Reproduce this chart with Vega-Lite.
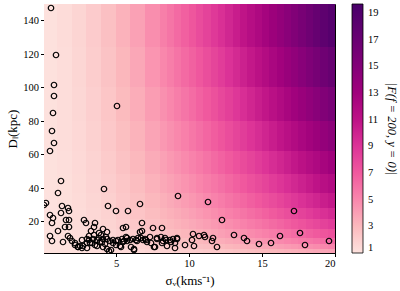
{
"$schema":"https://vega.github.io/schema/vega-lite/v6.json",
"width":291,"height":249,
"autosize":"none",
"padding":{"left":44,"top":4,"right":65,"bottom":38},
"background":"white",
"config":{
 "view":{"stroke":"#000","strokeWidth":1},
 "axis":{"grid":false,"domainColor":"#000","tickColor":"#000","tickSize":3.5,"labelFont":"Liberation Serif","labelFontSize":10.5,"labelColor":"#000","titleFont":"Liberation Serif","titleFontSize":13,"titleFontWeight":"normal","titleColor":"#000","labelPadding":2}
},
"datasets":{
"grid":[
{"s0":0.1,"s1":1,"d0":0.9,"d1":3,"f":1.01},{"s0":0.1,"s1":1,"d0":3,"d1":6,"f":1.01},{"s0":0.1,"s1":1,"d0":6,"d1":10,"f":1.02},{"s0":0.1,"s1":1,"d0":10,"d1":15,"f":1.02},{"s0":0.1,"s1":1,"d0":15,"d1":21,"f":1.02},{"s0":0.1,"s1":1,"d0":21,"d1":28,"f":1.03},{"s0":0.1,"s1":1,"d0":28,"d1":37,"f":1.03},{"s0":0.1,"s1":1,"d0":37,"d1":48,"f":1.04},{"s0":0.1,"s1":1,"d0":48,"d1":62,"f":1.04},{"s0":0.1,"s1":1,"d0":62,"d1":80,"f":1.04},{"s0":0.1,"s1":1,"d0":80,"d1":100,"f":1.05},{"s0":0.1,"s1":1,"d0":100,"d1":124,"f":1.05},{"s0":0.1,"s1":1,"d0":124,"d1":149.6,"f":1.06},
{"s0":1,"s1":2,"d0":0.9,"d1":3,"f":1.05},{"s0":1,"s1":2,"d0":3,"d1":6,"f":1.07},{"s0":1,"s1":2,"d0":6,"d1":10,"f":1.09},{"s0":1,"s1":2,"d0":10,"d1":15,"f":1.10},{"s0":1,"s1":2,"d0":15,"d1":21,"f":1.12},{"s0":1,"s1":2,"d0":21,"d1":28,"f":1.14},{"s0":1,"s1":2,"d0":28,"d1":37,"f":1.16},{"s0":1,"s1":2,"d0":37,"d1":48,"f":1.17},{"s0":1,"s1":2,"d0":48,"d1":62,"f":1.19},{"s0":1,"s1":2,"d0":62,"d1":80,"f":1.22},{"s0":1,"s1":2,"d0":80,"d1":100,"f":1.24},{"s0":1,"s1":2,"d0":100,"d1":124,"f":1.26},{"s0":1,"s1":2,"d0":124,"d1":149.6,"f":1.29},
{"s0":2,"s1":3,"d0":0.9,"d1":3,"f":1.11},{"s0":2,"s1":3,"d0":3,"d1":6,"f":1.15},{"s0":2,"s1":3,"d0":6,"d1":10,"f":1.20},{"s0":2,"s1":3,"d0":10,"d1":15,"f":1.24},{"s0":2,"s1":3,"d0":15,"d1":21,"f":1.28},{"s0":2,"s1":3,"d0":21,"d1":28,"f":1.31},{"s0":2,"s1":3,"d0":28,"d1":37,"f":1.35},{"s0":2,"s1":3,"d0":37,"d1":48,"f":1.40},{"s0":2,"s1":3,"d0":48,"d1":62,"f":1.44},{"s0":2,"s1":3,"d0":62,"d1":80,"f":1.49},{"s0":2,"s1":3,"d0":80,"d1":100,"f":1.54},{"s0":2,"s1":3,"d0":100,"d1":124,"f":1.59},{"s0":2,"s1":3,"d0":124,"d1":149.6,"f":1.65},
{"s0":3,"s1":4,"d0":0.9,"d1":3,"f":1.19},{"s0":3,"s1":4,"d0":3,"d1":6,"f":1.26},{"s0":3,"s1":4,"d0":6,"d1":10,"f":1.34},{"s0":3,"s1":4,"d0":10,"d1":15,"f":1.40},{"s0":3,"s1":4,"d0":15,"d1":21,"f":1.47},{"s0":3,"s1":4,"d0":21,"d1":28,"f":1.54},{"s0":3,"s1":4,"d0":28,"d1":37,"f":1.60},{"s0":3,"s1":4,"d0":37,"d1":48,"f":1.68},{"s0":3,"s1":4,"d0":48,"d1":62,"f":1.75},{"s0":3,"s1":4,"d0":62,"d1":80,"f":1.84},{"s0":3,"s1":4,"d0":80,"d1":100,"f":1.93},{"s0":3,"s1":4,"d0":100,"d1":124,"f":2.02},{"s0":3,"s1":4,"d0":124,"d1":149.6,"f":2.11},
{"s0":4,"s1":5,"d0":0.9,"d1":3,"f":1.28},{"s0":4,"s1":5,"d0":3,"d1":6,"f":1.39},{"s0":4,"s1":5,"d0":6,"d1":10,"f":1.50},{"s0":4,"s1":5,"d0":10,"d1":15,"f":1.60},{"s0":4,"s1":5,"d0":15,"d1":21,"f":1.70},{"s0":4,"s1":5,"d0":21,"d1":28,"f":1.80},{"s0":4,"s1":5,"d0":28,"d1":37,"f":1.90},{"s0":4,"s1":5,"d0":37,"d1":48,"f":2.01},{"s0":4,"s1":5,"d0":48,"d1":62,"f":2.13},{"s0":4,"s1":5,"d0":62,"d1":80,"f":2.25},{"s0":4,"s1":5,"d0":80,"d1":100,"f":2.39},{"s0":4,"s1":5,"d0":100,"d1":124,"f":2.52},{"s0":4,"s1":5,"d0":124,"d1":149.6,"f":2.65},
{"s0":5,"s1":6,"d0":0.9,"d1":3,"f":1.38},{"s0":5,"s1":6,"d0":3,"d1":6,"f":1.54},{"s0":5,"s1":6,"d0":6,"d1":10,"f":1.69},{"s0":5,"s1":6,"d0":10,"d1":15,"f":1.83},{"s0":5,"s1":6,"d0":15,"d1":21,"f":1.97},{"s0":5,"s1":6,"d0":21,"d1":28,"f":2.11},{"s0":5,"s1":6,"d0":28,"d1":37,"f":2.25},{"s0":5,"s1":6,"d0":37,"d1":48,"f":2.39},{"s0":5,"s1":6,"d0":48,"d1":62,"f":2.55},{"s0":5,"s1":6,"d0":62,"d1":80,"f":2.73},{"s0":5,"s1":6,"d0":80,"d1":100,"f":2.91},{"s0":5,"s1":6,"d0":100,"d1":124,"f":3.10},{"s0":5,"s1":6,"d0":124,"d1":149.6,"f":3.28},
{"s0":6,"s1":7,"d0":0.9,"d1":3,"f":1.50},{"s0":6,"s1":7,"d0":3,"d1":6,"f":1.71},{"s0":6,"s1":7,"d0":6,"d1":10,"f":1.90},{"s0":6,"s1":7,"d0":10,"d1":15,"f":2.09},{"s0":6,"s1":7,"d0":15,"d1":21,"f":2.27},{"s0":6,"s1":7,"d0":21,"d1":28,"f":2.45},{"s0":6,"s1":7,"d0":28,"d1":37,"f":2.63},{"s0":6,"s1":7,"d0":37,"d1":48,"f":2.82},{"s0":6,"s1":7,"d0":48,"d1":62,"f":3.03},{"s0":6,"s1":7,"d0":62,"d1":80,"f":3.26},{"s0":6,"s1":7,"d0":80,"d1":100,"f":3.50},{"s0":6,"s1":7,"d0":100,"d1":124,"f":3.74},{"s0":6,"s1":7,"d0":124,"d1":149.6,"f":3.98},
{"s0":7,"s1":8,"d0":0.9,"d1":3,"f":1.63},{"s0":7,"s1":8,"d0":3,"d1":6,"f":1.89},{"s0":7,"s1":8,"d0":6,"d1":10,"f":2.14},{"s0":7,"s1":8,"d0":10,"d1":15,"f":2.37},{"s0":7,"s1":8,"d0":15,"d1":21,"f":2.60},{"s0":7,"s1":8,"d0":21,"d1":28,"f":2.82},{"s0":7,"s1":8,"d0":28,"d1":37,"f":3.05},{"s0":7,"s1":8,"d0":37,"d1":48,"f":3.29},{"s0":7,"s1":8,"d0":48,"d1":62,"f":3.55},{"s0":7,"s1":8,"d0":62,"d1":80,"f":3.84},{"s0":7,"s1":8,"d0":80,"d1":100,"f":4.14},{"s0":7,"s1":8,"d0":100,"d1":124,"f":4.44},{"s0":7,"s1":8,"d0":124,"d1":149.6,"f":4.74},
{"s0":8,"s1":8.5,"d0":0.9,"d1":3,"f":1.73},{"s0":8,"s1":8.5,"d0":3,"d1":6,"f":2.04},{"s0":8,"s1":8.5,"d0":6,"d1":10,"f":2.32},{"s0":8,"s1":8.5,"d0":10,"d1":15,"f":2.60},{"s0":8,"s1":8.5,"d0":15,"d1":21,"f":2.86},{"s0":8,"s1":8.5,"d0":21,"d1":28,"f":3.12},{"s0":8,"s1":8.5,"d0":28,"d1":37,"f":3.38},{"s0":8,"s1":8.5,"d0":37,"d1":48,"f":3.67},{"s0":8,"s1":8.5,"d0":48,"d1":62,"f":3.97},{"s0":8,"s1":8.5,"d0":62,"d1":80,"f":4.31},{"s0":8,"s1":8.5,"d0":80,"d1":100,"f":4.66},{"s0":8,"s1":8.5,"d0":100,"d1":124,"f":5.01},{"s0":8,"s1":8.5,"d0":124,"d1":149.6,"f":5.36},
{"s0":8.5,"s1":9,"d0":0.9,"d1":3,"f":1.80},{"s0":8.5,"s1":9,"d0":3,"d1":6,"f":2.14},{"s0":8.5,"s1":9,"d0":6,"d1":10,"f":2.45},{"s0":8.5,"s1":9,"d0":10,"d1":15,"f":2.75},{"s0":8.5,"s1":9,"d0":15,"d1":21,"f":3.04},{"s0":8.5,"s1":9,"d0":21,"d1":28,"f":3.33},{"s0":8.5,"s1":9,"d0":28,"d1":37,"f":3.62},{"s0":8.5,"s1":9,"d0":37,"d1":48,"f":3.93},{"s0":8.5,"s1":9,"d0":48,"d1":62,"f":4.27},{"s0":8.5,"s1":9,"d0":62,"d1":80,"f":4.64},{"s0":8.5,"s1":9,"d0":80,"d1":100,"f":5.02},{"s0":8.5,"s1":9,"d0":100,"d1":124,"f":5.40},{"s0":8.5,"s1":9,"d0":124,"d1":149.6,"f":5.79},
{"s0":9,"s1":9.5,"d0":0.9,"d1":3,"f":1.88},{"s0":9,"s1":9.5,"d0":3,"d1":6,"f":2.25},{"s0":9,"s1":9.5,"d0":6,"d1":10,"f":2.59},{"s0":9,"s1":9.5,"d0":10,"d1":15,"f":2.92},{"s0":9,"s1":9.5,"d0":15,"d1":21,"f":3.23},{"s0":9,"s1":9.5,"d0":21,"d1":28,"f":3.54},{"s0":9,"s1":9.5,"d0":28,"d1":37,"f":3.86},{"s0":9,"s1":9.5,"d0":37,"d1":48,"f":4.20},{"s0":9,"s1":9.5,"d0":48,"d1":62,"f":4.57},{"s0":9,"s1":9.5,"d0":62,"d1":80,"f":4.98},{"s0":9,"s1":9.5,"d0":80,"d1":100,"f":5.39},{"s0":9,"s1":9.5,"d0":100,"d1":124,"f":5.81},{"s0":9,"s1":9.5,"d0":124,"d1":149.6,"f":6.24},
{"s0":9.5,"s1":10,"d0":0.9,"d1":3,"f":1.96},{"s0":9.5,"s1":10,"d0":3,"d1":6,"f":2.36},{"s0":9.5,"s1":10,"d0":6,"d1":10,"f":2.73},{"s0":9.5,"s1":10,"d0":10,"d1":15,"f":3.09},{"s0":9.5,"s1":10,"d0":15,"d1":21,"f":3.43},{"s0":9.5,"s1":10,"d0":21,"d1":28,"f":3.77},{"s0":9.5,"s1":10,"d0":28,"d1":37,"f":4.12},{"s0":9.5,"s1":10,"d0":37,"d1":48,"f":4.49},{"s0":9.5,"s1":10,"d0":48,"d1":62,"f":4.88},{"s0":9.5,"s1":10,"d0":62,"d1":80,"f":5.32},{"s0":9.5,"s1":10,"d0":80,"d1":100,"f":5.78},{"s0":9.5,"s1":10,"d0":100,"d1":124,"f":6.24},{"s0":9.5,"s1":10,"d0":124,"d1":149.6,"f":6.70},
{"s0":10,"s1":10.5,"d0":0.9,"d1":3,"f":2.03},{"s0":10,"s1":10.5,"d0":3,"d1":6,"f":2.47},{"s0":10,"s1":10.5,"d0":6,"d1":10,"f":2.87},{"s0":10,"s1":10.5,"d0":10,"d1":15,"f":3.26},{"s0":10,"s1":10.5,"d0":15,"d1":21,"f":3.63},{"s0":10,"s1":10.5,"d0":21,"d1":28,"f":4.00},{"s0":10,"s1":10.5,"d0":28,"d1":37,"f":4.37},{"s0":10,"s1":10.5,"d0":37,"d1":48,"f":4.78},{"s0":10,"s1":10.5,"d0":48,"d1":62,"f":5.21},{"s0":10,"s1":10.5,"d0":62,"d1":80,"f":5.68},{"s0":10,"s1":10.5,"d0":80,"d1":100,"f":6.18},{"s0":10,"s1":10.5,"d0":100,"d1":124,"f":6.67},{"s0":10,"s1":10.5,"d0":124,"d1":149.6,"f":7.17},
{"s0":10.5,"s1":11,"d0":0.9,"d1":3,"f":2.12},{"s0":10.5,"s1":11,"d0":3,"d1":6,"f":2.59},{"s0":10.5,"s1":11,"d0":6,"d1":10,"f":3.02},{"s0":10.5,"s1":11,"d0":10,"d1":15,"f":3.44},{"s0":10.5,"s1":11,"d0":15,"d1":21,"f":3.84},{"s0":10.5,"s1":11,"d0":21,"d1":28,"f":4.23},{"s0":10.5,"s1":11,"d0":28,"d1":37,"f":4.64},{"s0":10.5,"s1":11,"d0":37,"d1":48,"f":5.08},{"s0":10.5,"s1":11,"d0":48,"d1":62,"f":5.54},{"s0":10.5,"s1":11,"d0":62,"d1":80,"f":6.06},{"s0":10.5,"s1":11,"d0":80,"d1":100,"f":6.59},{"s0":10.5,"s1":11,"d0":100,"d1":124,"f":7.12},{"s0":10.5,"s1":11,"d0":124,"d1":149.6,"f":7.66},
{"s0":11,"s1":11.5,"d0":0.9,"d1":3,"f":2.20},{"s0":11,"s1":11.5,"d0":3,"d1":6,"f":2.71},{"s0":11,"s1":11.5,"d0":6,"d1":10,"f":3.17},{"s0":11,"s1":11.5,"d0":10,"d1":15,"f":3.62},{"s0":11,"s1":11.5,"d0":15,"d1":21,"f":4.06},{"s0":11,"s1":11.5,"d0":21,"d1":28,"f":4.48},{"s0":11,"s1":11.5,"d0":28,"d1":37,"f":4.92},{"s0":11,"s1":11.5,"d0":37,"d1":48,"f":5.38},{"s0":11,"s1":11.5,"d0":48,"d1":62,"f":5.88},{"s0":11,"s1":11.5,"d0":62,"d1":80,"f":6.44},{"s0":11,"s1":11.5,"d0":80,"d1":100,"f":7.01},{"s0":11,"s1":11.5,"d0":100,"d1":124,"f":7.58},{"s0":11,"s1":11.5,"d0":124,"d1":149.6,"f":8.16},
{"s0":11.5,"s1":12,"d0":0.9,"d1":3,"f":2.29},{"s0":11.5,"s1":12,"d0":3,"d1":6,"f":2.83},{"s0":11.5,"s1":12,"d0":6,"d1":10,"f":3.33},{"s0":11.5,"s1":12,"d0":10,"d1":15,"f":3.81},{"s0":11.5,"s1":12,"d0":15,"d1":21,"f":4.28},{"s0":11.5,"s1":12,"d0":21,"d1":28,"f":4.73},{"s0":11.5,"s1":12,"d0":28,"d1":37,"f":5.20},{"s0":11.5,"s1":12,"d0":37,"d1":48,"f":5.70},{"s0":11.5,"s1":12,"d0":48,"d1":62,"f":6.24},{"s0":11.5,"s1":12,"d0":62,"d1":80,"f":6.83},{"s0":11.5,"s1":12,"d0":80,"d1":100,"f":7.44},{"s0":11.5,"s1":12,"d0":100,"d1":124,"f":8.06},{"s0":11.5,"s1":12,"d0":124,"d1":149.6,"f":8.68},
{"s0":12,"s1":12.5,"d0":0.9,"d1":3,"f":2.38},{"s0":12,"s1":12.5,"d0":3,"d1":6,"f":2.96},{"s0":12,"s1":12.5,"d0":6,"d1":10,"f":3.49},{"s0":12,"s1":12.5,"d0":10,"d1":15,"f":4.00},{"s0":12,"s1":12.5,"d0":15,"d1":21,"f":4.50},{"s0":12,"s1":12.5,"d0":21,"d1":28,"f":4.99},{"s0":12,"s1":12.5,"d0":28,"d1":37,"f":5.49},{"s0":12,"s1":12.5,"d0":37,"d1":48,"f":6.02},{"s0":12,"s1":12.5,"d0":48,"d1":62,"f":6.60},{"s0":12,"s1":12.5,"d0":62,"d1":80,"f":7.23},{"s0":12,"s1":12.5,"d0":80,"d1":100,"f":7.88},{"s0":12,"s1":12.5,"d0":100,"d1":124,"f":8.55},{"s0":12,"s1":12.5,"d0":124,"d1":149.6,"f":9.21},
{"s0":12.5,"s1":13,"d0":0.9,"d1":3,"f":2.47},{"s0":12.5,"s1":13,"d0":3,"d1":6,"f":3.09},{"s0":12.5,"s1":13,"d0":6,"d1":10,"f":3.66},{"s0":12.5,"s1":13,"d0":10,"d1":15,"f":4.20},{"s0":12.5,"s1":13,"d0":15,"d1":21,"f":4.73},{"s0":12.5,"s1":13,"d0":21,"d1":28,"f":5.25},{"s0":12.5,"s1":13,"d0":28,"d1":37,"f":5.79},{"s0":12.5,"s1":13,"d0":37,"d1":48,"f":6.36},{"s0":12.5,"s1":13,"d0":48,"d1":62,"f":6.97},{"s0":12.5,"s1":13,"d0":62,"d1":80,"f":7.64},{"s0":12.5,"s1":13,"d0":80,"d1":100,"f":8.34},{"s0":12.5,"s1":13,"d0":100,"d1":124,"f":9.04},{"s0":12.5,"s1":13,"d0":124,"d1":149.6,"f":9.75},
{"s0":13,"s1":13.5,"d0":0.9,"d1":3,"f":2.56},{"s0":13,"s1":13.5,"d0":3,"d1":6,"f":3.22},{"s0":13,"s1":13.5,"d0":6,"d1":10,"f":3.82},{"s0":13,"s1":13.5,"d0":10,"d1":15,"f":4.41},{"s0":13,"s1":13.5,"d0":15,"d1":21,"f":4.97},{"s0":13,"s1":13.5,"d0":21,"d1":28,"f":5.52},{"s0":13,"s1":13.5,"d0":28,"d1":37,"f":6.09},{"s0":13,"s1":13.5,"d0":37,"d1":48,"f":6.70},{"s0":13,"s1":13.5,"d0":48,"d1":62,"f":7.35},{"s0":13,"s1":13.5,"d0":62,"d1":80,"f":8.06},{"s0":13,"s1":13.5,"d0":80,"d1":100,"f":8.81},{"s0":13,"s1":13.5,"d0":100,"d1":124,"f":9.56},{"s0":13,"s1":13.5,"d0":124,"d1":149.6,"f":10.31},
{"s0":13.5,"s1":14,"d0":0.9,"d1":3,"f":2.66},{"s0":13.5,"s1":14,"d0":3,"d1":6,"f":3.35},{"s0":13.5,"s1":14,"d0":6,"d1":10,"f":4.00},{"s0":13.5,"s1":14,"d0":10,"d1":15,"f":4.61},{"s0":13.5,"s1":14,"d0":15,"d1":21,"f":5.21},{"s0":13.5,"s1":14,"d0":21,"d1":28,"f":5.79},{"s0":13.5,"s1":14,"d0":28,"d1":37,"f":6.40},{"s0":13.5,"s1":14,"d0":37,"d1":48,"f":7.04},{"s0":13.5,"s1":14,"d0":48,"d1":62,"f":7.73},{"s0":13.5,"s1":14,"d0":62,"d1":80,"f":8.50},{"s0":13.5,"s1":14,"d0":80,"d1":100,"f":9.28},{"s0":13.5,"s1":14,"d0":100,"d1":124,"f":10.08},{"s0":13.5,"s1":14,"d0":124,"d1":149.6,"f":10.87},
{"s0":14,"s1":14.5,"d0":0.9,"d1":3,"f":2.75},{"s0":14,"s1":14.5,"d0":3,"d1":6,"f":3.49},{"s0":14,"s1":14.5,"d0":6,"d1":10,"f":4.17},{"s0":14,"s1":14.5,"d0":10,"d1":15,"f":4.83},{"s0":14,"s1":14.5,"d0":15,"d1":21,"f":5.46},{"s0":14,"s1":14.5,"d0":21,"d1":28,"f":6.08},{"s0":14,"s1":14.5,"d0":28,"d1":37,"f":6.72},{"s0":14,"s1":14.5,"d0":37,"d1":48,"f":7.40},{"s0":14,"s1":14.5,"d0":48,"d1":62,"f":8.13},{"s0":14,"s1":14.5,"d0":62,"d1":80,"f":8.94},{"s0":14,"s1":14.5,"d0":80,"d1":100,"f":9.77},{"s0":14,"s1":14.5,"d0":100,"d1":124,"f":10.61},{"s0":14,"s1":14.5,"d0":124,"d1":149.6,"f":11.45},
{"s0":14.5,"s1":15,"d0":0.9,"d1":3,"f":2.85},{"s0":14.5,"s1":15,"d0":3,"d1":6,"f":3.63},{"s0":14.5,"s1":15,"d0":6,"d1":10,"f":4.35},{"s0":14.5,"s1":15,"d0":10,"d1":15,"f":5.04},{"s0":14.5,"s1":15,"d0":15,"d1":21,"f":5.71},{"s0":14.5,"s1":15,"d0":21,"d1":28,"f":6.36},{"s0":14.5,"s1":15,"d0":28,"d1":37,"f":7.04},{"s0":14.5,"s1":15,"d0":37,"d1":48,"f":7.76},{"s0":14.5,"s1":15,"d0":48,"d1":62,"f":8.53},{"s0":14.5,"s1":15,"d0":62,"d1":80,"f":9.39},{"s0":14.5,"s1":15,"d0":80,"d1":100,"f":10.27},{"s0":14.5,"s1":15,"d0":100,"d1":124,"f":11.16},{"s0":14.5,"s1":15,"d0":124,"d1":149.6,"f":12.05},
{"s0":15,"s1":15.5,"d0":0.9,"d1":3,"f":2.95},{"s0":15,"s1":15.5,"d0":3,"d1":6,"f":3.78},{"s0":15,"s1":15.5,"d0":6,"d1":10,"f":4.54},{"s0":15,"s1":15.5,"d0":10,"d1":15,"f":5.27},{"s0":15,"s1":15.5,"d0":15,"d1":21,"f":5.97},{"s0":15,"s1":15.5,"d0":21,"d1":28,"f":6.66},{"s0":15,"s1":15.5,"d0":28,"d1":37,"f":7.37},{"s0":15,"s1":15.5,"d0":37,"d1":48,"f":8.13},{"s0":15,"s1":15.5,"d0":48,"d1":62,"f":8.95},{"s0":15,"s1":15.5,"d0":62,"d1":80,"f":9.85},{"s0":15,"s1":15.5,"d0":80,"d1":100,"f":10.77},{"s0":15,"s1":15.5,"d0":100,"d1":124,"f":11.71},{"s0":15,"s1":15.5,"d0":124,"d1":149.6,"f":12.65},
{"s0":15.5,"s1":16,"d0":0.9,"d1":3,"f":3.06},{"s0":15.5,"s1":16,"d0":3,"d1":6,"f":3.92},{"s0":15.5,"s1":16,"d0":6,"d1":10,"f":4.72},{"s0":15.5,"s1":16,"d0":10,"d1":15,"f":5.49},{"s0":15.5,"s1":16,"d0":15,"d1":21,"f":6.23},{"s0":15.5,"s1":16,"d0":21,"d1":28,"f":6.96},{"s0":15.5,"s1":16,"d0":28,"d1":37,"f":7.71},{"s0":15.5,"s1":16,"d0":37,"d1":48,"f":8.51},{"s0":15.5,"s1":16,"d0":48,"d1":62,"f":9.37},{"s0":15.5,"s1":16,"d0":62,"d1":80,"f":10.32},{"s0":15.5,"s1":16,"d0":80,"d1":100,"f":11.29},{"s0":15.5,"s1":16,"d0":100,"d1":124,"f":12.28},{"s0":15.5,"s1":16,"d0":124,"d1":149.6,"f":13.27},
{"s0":16,"s1":16.5,"d0":0.9,"d1":3,"f":3.16},{"s0":16,"s1":16.5,"d0":3,"d1":6,"f":4.07},{"s0":16,"s1":16.5,"d0":6,"d1":10,"f":4.91},{"s0":16,"s1":16.5,"d0":10,"d1":15,"f":5.72},{"s0":16,"s1":16.5,"d0":15,"d1":21,"f":6.50},{"s0":16,"s1":16.5,"d0":21,"d1":28,"f":7.26},{"s0":16,"s1":16.5,"d0":28,"d1":37,"f":8.05},{"s0":16,"s1":16.5,"d0":37,"d1":48,"f":8.89},{"s0":16,"s1":16.5,"d0":48,"d1":62,"f":9.80},{"s0":16,"s1":16.5,"d0":62,"d1":80,"f":10.79},{"s0":16,"s1":16.5,"d0":80,"d1":100,"f":11.82},{"s0":16,"s1":16.5,"d0":100,"d1":124,"f":12.86},{"s0":16,"s1":16.5,"d0":124,"d1":149.6,"f":13.90},
{"s0":16.5,"s1":17,"d0":0.9,"d1":3,"f":3.27},{"s0":16.5,"s1":17,"d0":3,"d1":6,"f":4.23},{"s0":16.5,"s1":17,"d0":6,"d1":10,"f":5.11},{"s0":16.5,"s1":17,"d0":10,"d1":15,"f":5.96},{"s0":16.5,"s1":17,"d0":15,"d1":21,"f":6.78},{"s0":16.5,"s1":17,"d0":21,"d1":28,"f":7.58},{"s0":16.5,"s1":17,"d0":28,"d1":37,"f":8.40},{"s0":16.5,"s1":17,"d0":37,"d1":48,"f":9.29},{"s0":16.5,"s1":17,"d0":48,"d1":62,"f":10.23},{"s0":16.5,"s1":17,"d0":62,"d1":80,"f":11.28},{"s0":16.5,"s1":17,"d0":80,"d1":100,"f":12.36},{"s0":16.5,"s1":17,"d0":100,"d1":124,"f":13.45},{"s0":16.5,"s1":17,"d0":124,"d1":149.6,"f":14.54},
{"s0":17,"s1":17.5,"d0":0.9,"d1":3,"f":3.38},{"s0":17,"s1":17.5,"d0":3,"d1":6,"f":4.38},{"s0":17,"s1":17.5,"d0":6,"d1":10,"f":5.31},{"s0":17,"s1":17.5,"d0":10,"d1":15,"f":6.20},{"s0":17,"s1":17.5,"d0":15,"d1":21,"f":7.06},{"s0":17,"s1":17.5,"d0":21,"d1":28,"f":7.89},{"s0":17,"s1":17.5,"d0":28,"d1":37,"f":8.76},{"s0":17,"s1":17.5,"d0":37,"d1":48,"f":9.69},{"s0":17,"s1":17.5,"d0":48,"d1":62,"f":10.68},{"s0":17,"s1":17.5,"d0":62,"d1":80,"f":11.78},{"s0":17,"s1":17.5,"d0":80,"d1":100,"f":12.90},{"s0":17,"s1":17.5,"d0":100,"d1":124,"f":14.05},{"s0":17,"s1":17.5,"d0":124,"d1":149.6,"f":15.19},
{"s0":17.5,"s1":18,"d0":0.9,"d1":3,"f":3.49},{"s0":17.5,"s1":18,"d0":3,"d1":6,"f":4.54},{"s0":17.5,"s1":18,"d0":6,"d1":10,"f":5.51},{"s0":17.5,"s1":18,"d0":10,"d1":15,"f":6.44},{"s0":17.5,"s1":18,"d0":15,"d1":21,"f":7.34},{"s0":17.5,"s1":18,"d0":21,"d1":28,"f":8.21},{"s0":17.5,"s1":18,"d0":28,"d1":37,"f":9.12},{"s0":17.5,"s1":18,"d0":37,"d1":48,"f":10.09},{"s0":17.5,"s1":18,"d0":48,"d1":62,"f":11.13},{"s0":17.5,"s1":18,"d0":62,"d1":80,"f":12.28},{"s0":17.5,"s1":18,"d0":80,"d1":100,"f":13.46},{"s0":17.5,"s1":18,"d0":100,"d1":124,"f":14.66},{"s0":17.5,"s1":18,"d0":124,"d1":149.6,"f":15.86},
{"s0":18,"s1":18.5,"d0":0.9,"d1":3,"f":3.60},{"s0":18,"s1":18.5,"d0":3,"d1":6,"f":4.70},{"s0":18,"s1":18.5,"d0":6,"d1":10,"f":5.71},{"s0":18,"s1":18.5,"d0":10,"d1":15,"f":6.69},{"s0":18,"s1":18.5,"d0":15,"d1":21,"f":7.63},{"s0":18,"s1":18.5,"d0":21,"d1":28,"f":8.54},{"s0":18,"s1":18.5,"d0":28,"d1":37,"f":9.49},{"s0":18,"s1":18.5,"d0":37,"d1":48,"f":10.51},{"s0":18,"s1":18.5,"d0":48,"d1":62,"f":11.59},{"s0":18,"s1":18.5,"d0":62,"d1":80,"f":12.79},{"s0":18,"s1":18.5,"d0":80,"d1":100,"f":14.03},{"s0":18,"s1":18.5,"d0":100,"d1":124,"f":15.28},{"s0":18,"s1":18.5,"d0":124,"d1":149.6,"f":16.53},
{"s0":18.5,"s1":19,"d0":0.9,"d1":3,"f":3.72},{"s0":18.5,"s1":19,"d0":3,"d1":6,"f":4.86},{"s0":18.5,"s1":19,"d0":6,"d1":10,"f":5.92},{"s0":18.5,"s1":19,"d0":10,"d1":15,"f":6.94},{"s0":18.5,"s1":19,"d0":15,"d1":21,"f":7.92},{"s0":18.5,"s1":19,"d0":21,"d1":28,"f":8.88},{"s0":18.5,"s1":19,"d0":28,"d1":37,"f":9.87},{"s0":18.5,"s1":19,"d0":37,"d1":48,"f":10.93},{"s0":18.5,"s1":19,"d0":48,"d1":62,"f":12.06},{"s0":18.5,"s1":19,"d0":62,"d1":80,"f":13.31},{"s0":18.5,"s1":19,"d0":80,"d1":100,"f":14.60},{"s0":18.5,"s1":19,"d0":100,"d1":124,"f":15.91},{"s0":18.5,"s1":19,"d0":124,"d1":149.6,"f":17.22},
{"s0":19,"s1":19.5,"d0":0.9,"d1":3,"f":3.84},{"s0":19,"s1":19.5,"d0":3,"d1":6,"f":5.03},{"s0":19,"s1":19.5,"d0":6,"d1":10,"f":6.13},{"s0":19,"s1":19.5,"d0":10,"d1":15,"f":7.19},{"s0":19,"s1":19.5,"d0":15,"d1":21,"f":8.22},{"s0":19,"s1":19.5,"d0":21,"d1":28,"f":9.21},{"s0":19,"s1":19.5,"d0":28,"d1":37,"f":10.25},{"s0":19,"s1":19.5,"d0":37,"d1":48,"f":11.35},{"s0":19,"s1":19.5,"d0":48,"d1":62,"f":12.53},{"s0":19,"s1":19.5,"d0":62,"d1":80,"f":13.84},{"s0":19,"s1":19.5,"d0":80,"d1":100,"f":15.19},{"s0":19,"s1":19.5,"d0":100,"d1":124,"f":16.55},{"s0":19,"s1":19.5,"d0":124,"d1":149.6,"f":17.91},
{"s0":19.5,"s1":20,"d0":0.9,"d1":3,"f":3.96},{"s0":19.5,"s1":20,"d0":3,"d1":6,"f":5.20},{"s0":19.5,"s1":20,"d0":6,"d1":10,"f":6.35},{"s0":19.5,"s1":20,"d0":10,"d1":15,"f":7.45},{"s0":19.5,"s1":20,"d0":15,"d1":21,"f":8.52},{"s0":19.5,"s1":20,"d0":21,"d1":28,"f":9.56},{"s0":19.5,"s1":20,"d0":28,"d1":37,"f":10.64},{"s0":19.5,"s1":20,"d0":37,"d1":48,"f":11.79},{"s0":19.5,"s1":20,"d0":48,"d1":62,"f":13.02},{"s0":19.5,"s1":20,"d0":62,"d1":80,"f":14.38},{"s0":19.5,"s1":20,"d0":80,"d1":100,"f":15.78},{"s0":19.5,"s1":20,"d0":100,"d1":124,"f":17.20},{"s0":19.5,"s1":20,"d0":124,"d1":149.6,"f":18.62}
],
"pts":[
{"s":0.58,"d":147.2},{"s":0.90,"d":118.9},{"s":0.79,"d":101.2},{"s":0.79,"d":94.6},{"s":0.70,"d":84.5},{"s":0.67,"d":73.6},{"s":0.79,"d":66.4},{"s":0.51,"d":61.8},{"s":5.07,"d":88.5},
{"s":1.26,"d":44.1},{"s":1.08,"d":36.5},{"s":4.20,"d":39.1},{"s":0.22,"d":30.6},{"s":0.12,"d":29.4},{"s":1.31,"d":28.8},{"s":0.51,"d":23.6},{"s":0.74,"d":21.6},{"s":0.67,"d":18.6},{"s":1.26,"d":24.6},{"s":1.76,"d":27.6},{"s":1.81,"d":26.2},{"s":1.58,"d":20.6},{"s":1.81,"d":20.6},{"s":1.54,"d":16.2},{"s":1.81,"d":16.2},{"s":1.08,"d":14.2},{"s":0.51,"d":11.0},{"s":0.63,"d":8.1},{"s":1.38,"d":7.6},{"s":1.72,"d":11.2},{"s":2.86,"d":20.6},{"s":2.95,"d":19.0},{"s":4.49,"d":28.8},{"s":5.00,"d":26.2},{"s":5.86,"d":26.0},{"s":6.66,"d":30.1},{"s":9.28,"d":34.7},{"s":3.59,"d":18.6},{"s":3.54,"d":16.2},{"s":3.29,"d":14.2},{"s":4.11,"d":15.2},{"s":4.38,"d":13.6},{"s":3.88,"d":13.0},{"s":5.52,"d":15.6},{"s":5.70,"d":16.2},{"s":6.78,"d":18.6},{"s":6.78,"d":14.2},{"s":7.57,"d":15.6},{"s":8.14,"d":15.6},{"s":9.17,"d":9.1},{"s":9.75,"d":5.5},{"s":10.19,"d":8.7},{"s":10.37,"d":5.1},
{"s":11.32,"d":31.5},{"s":12.26,"d":20.4},{"s":17.18,"d":26.2},{"s":10.30,"d":12.1},{"s":10.71,"d":11.0},{"s":11.05,"d":11.8},{"s":11.10,"d":10.3},{"s":11.58,"d":8.3},{"s":11.67,"d":10.0},{"s":11.90,"d":4.3},{"s":13.08,"d":11.6},{"s":13.78,"d":10.0},{"s":13.99,"d":8.3},{"s":14.77,"d":6.1},{"s":15.59,"d":6.7},{"s":16.27,"d":11.2},{"s":17.60,"d":12.6},{"s":17.98,"d":5.5},{"s":19.57,"d":8.1},
{"s":1.99,"d":8.1},{"s":2.22,"d":5.7},{"s":2.45,"d":4.3},{"s":2.68,"d":3.7},{"s":2.79,"d":5.1},{"s":3.02,"d":7.1},{"s":3.20,"d":8.7},{"s":3.36,"d":6.7},{"s":3.47,"d":9.5},{"s":3.59,"d":5.7},{"s":3.74,"d":8.7},{"s":3.88,"d":10.1},{"s":4.04,"d":7.7},{"s":4.15,"d":9.1},{"s":4.27,"d":6.3},{"s":4.38,"d":9.3},{"s":4.61,"d":8.3},{"s":4.68,"d":2.7},{"s":4.84,"d":7.1},{"s":5.02,"d":8.3},{"s":5.18,"d":8.7},{"s":5.29,"d":5.1},{"s":5.41,"d":9.5},{"s":5.57,"d":7.9},{"s":5.70,"d":10.3},{"s":5.79,"d":8.1},{"s":5.98,"d":8.7},{"s":6.16,"d":9.5},{"s":6.25,"d":3.5},{"s":6.43,"d":8.1},{"s":6.55,"d":10.1},{"s":6.66,"d":13.6},{"s":6.84,"d":8.7},{"s":7.00,"d":9.5},{"s":7.12,"d":7.7},{"s":7.34,"d":10.3},{"s":7.68,"d":4.3},{"s":7.80,"d":9.5},{"s":8.07,"d":10.3},{"s":8.21,"d":8.3},{"s":8.37,"d":9.7},{"s":8.48,"d":5.1},{"s":8.71,"d":8.7},{"s":8.93,"d":9.1},{"s":9.07,"d":3.7},{"s":9.21,"d":9.7},
{"s":2.56,"d":5.1},{"s":3.06,"d":3.7},{"s":3.24,"d":6.7},{"s":3.70,"d":5.1},{"s":3.92,"d":7.7},{"s":4.15,"d":4.7},{"s":4.38,"d":3.1},{"s":4.55,"d":2.0},{"s":3.01,"d":9.1},{"s":3.19,"d":11.1},{"s":2.67,"d":8.7},{"s":3.54,"d":11.8},{"s":4.00,"d":11.8},{"s":4.34,"d":10.5},{"s":4.79,"d":8.7},{"s":5.02,"d":5.7},{"s":5.36,"d":4.3},{"s":5.47,"d":7.7},{"s":5.81,"d":9.7},{"s":6.04,"d":4.7},{"s":6.27,"d":2.7},{"s":6.38,"d":8.7},{"s":6.72,"d":9.7},{"s":7.06,"d":8.7},{"s":7.40,"d":6.7},{"s":7.63,"d":4.7},{"s":7.86,"d":9.7},{"s":8.20,"d":6.7},{"s":8.43,"d":8.7},{"s":8.77,"d":7.7},{"s":9.07,"d":6.7},{"s":2.20,"d":6.7},{"s":2.40,"d":4.5},{"s":1.88,"d":9.7}
]
},
"layer":[
 {"data":{"name":"grid"},
  "mark":{"type":"rect"},
  "encoding":{
   "x":{"field":"s0","type":"quantitative","scale":{"domain":[0.1,20],"nice":false,"zero":false,"round":true},
        "axis":{"values":[5,10,15,20],"title":"σᵥ(kms⁻¹)","titlePadding":5}},
   "x2":{"field":"s1"},
   "y":{"field":"d0","type":"quantitative","scale":{"domain":[0.9,149.6],"nice":false,"zero":false,"round":true},
        "axis":{"values":[20,40,60,80,100,120,140],"title":"Dₗ(kpc)","titlePadding":3}},
   "y2":{"field":"d1"},
   "color":{"field":"f","type":"quantitative",
     "scale":{"type":"linear","domain":[1,3,5,7,9,11,13,15,17,19.67],"range":["#fde2de","#fbb9bd","#f987ac","#f0599e","#dc3397","#bd1286","#a0017c","#830178","#690172","#49006a"],"interpolate":"rgb","nice":false,"zero":false,"clamp":true},
     "legend":{"type":"gradient","direction":"vertical","title":"|F(f = 200, y = 0)|","values":[1,3,5,7,9,11,13,15,17,19],"gradientLength":249,"gradientThickness":11,"offset":17,"padding":0,"labelFont":"Liberation Serif","labelFontSize":10.5,"labelColor":"#000","labelOffset":5,"labelOverlap":false,"titleOrient":"right","titleAngle":270,"titleAnchor":"middle","titleFont":"Liberation Serif","titleFontStyle":"italic","titleFontWeight":"normal","titleFontSize":12.5,"titleColor":"#000","titlePadding":6,"gradientStrokeColor":"#000","gradientStrokeWidth":0.8}}
  }},
 {"data":{"name":"pts"},
  "mark":{"type":"point","shape":"circle","filled":false,"stroke":"#000","strokeWidth":1.2,"size":30,"opacity":1,"clip":true},
  "encoding":{
   "x":{"field":"s","type":"quantitative"},
   "y":{"field":"d","type":"quantitative"}
  }}
]
}
